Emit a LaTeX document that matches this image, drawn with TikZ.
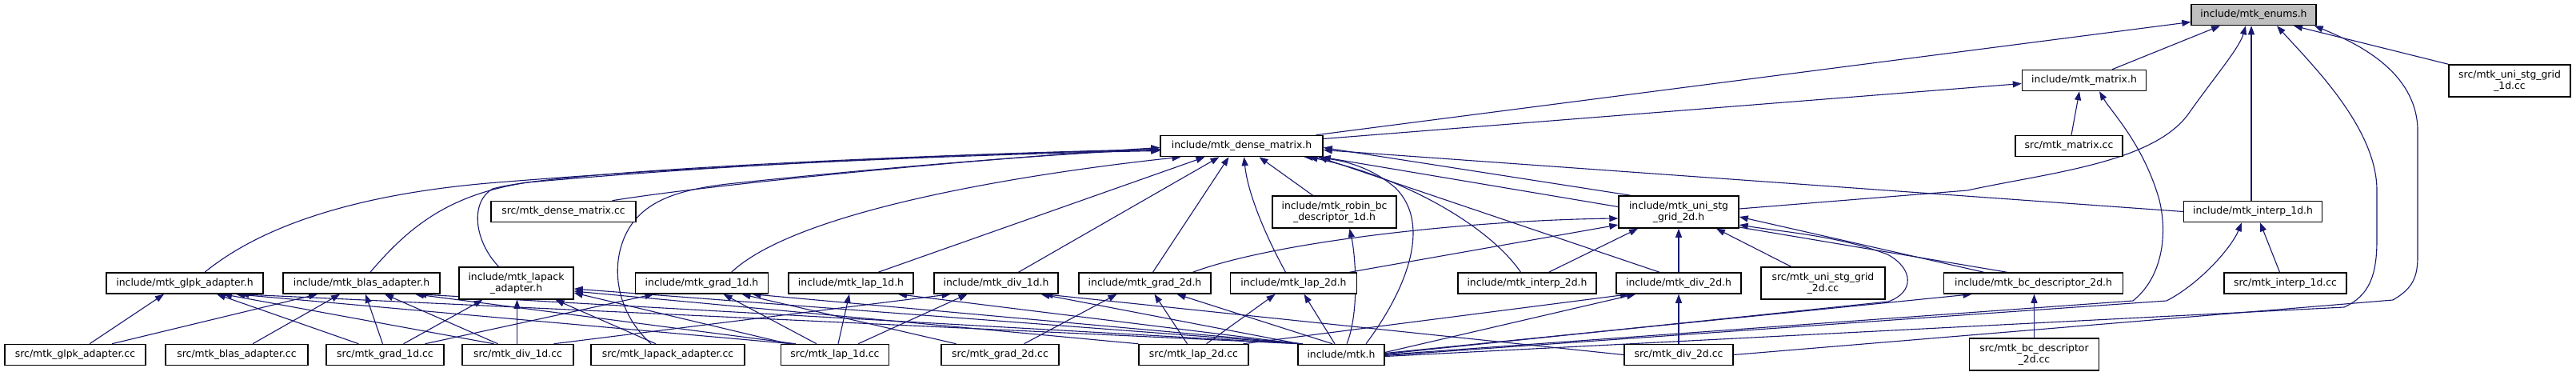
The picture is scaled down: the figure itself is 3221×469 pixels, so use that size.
\documentclass[tikz,border=0pt]{standalone}
\usepackage{fontspec}
\setmainfont{DejaVu Sans}
\usetikzlibrary{arrows.meta}
\definecolor{dkblue}{HTML}{191970}
\definecolor{rootgray}{HTML}{BFBFBF}
\newcommand\nodefont{\fontsize{12.4}{14}\selectfont}
\pgfdeclarelayer{bg}
\pgfsetlayers{bg,main}
\tikzset{
  box/.style={draw=black, line width=1.5pt, fill=white, inner sep=0pt, minimum height=26pt, align=center, font=\nodefont},
  box2/.style={box, minimum height=40pt},
  edge/.style={draw=dkblue, line width=1.1pt, -{Triangle[length=11pt,width=8pt]}},
}
\begin{document}
\begin{tikzpicture}[x=1pt,y=-1pt]
\useasboundingbox (0,0) rectangle (3221,469);
% nodes
\node[box, fill=rootgray, minimum width=156] (E) at (2818,18.5) {include/mtk\_enums.h};
\node[box, minimum width=155] (M) at (2606,100.5) {include/mtk\_matrix.h};
\node[box, minimum width=134] (MCC) at (2587,182.5) {src/mtk\_matrix.cc};
\node[box2, minimum width=152] (U1CC) at (3138,101) {src/mtk\_uni\_stg\_grid\\\_1d.cc};
\node[box, minimum width=203] (DM) at (1552.5,182.5) {include/mtk\_dense\_matrix.h};
\node[box, minimum width=181] (DMCC) at (704.5,264.5) {src/mtk\_dense\_matrix.cc};
\node[box2, minimum width=155] (ROB) at (1668.5,265) {include/mtk\_robin\_bc\\\_descriptor\_1d.h};
\node[box2, minimum width=150] (U2) at (2099,265) {include/mtk\_uni\_stg\\\_grid\_2d.h};
\node[box, minimum width=173] (I1) at (2817,264.5) {include/mtk\_interp\_1d.h};
\node[box, minimum width=196] (GLPK) at (231,354) {include/mtk\_glpk\_adapter.h};
\node[box, minimum width=196] (BLAS) at (452,354) {include/mtk\_blas\_adapter.h};
\node[box2, minimum width=143] (LAPACK) at (645.5,354) {include/mtk\_lapack\\\_adapter.h};
\node[box, minimum width=166] (G1) at (877.5,354) {include/mtk\_grad\_1d.h};
\node[box, minimum width=156] (L1) at (1064,354) {include/mtk\_lap\_1d.h};
\node[box, minimum width=155] (D1) at (1245.5,354) {include/mtk\_div\_1d.h};
\node[box, minimum width=165] (G2) at (1431.5,354) {include/mtk\_grad\_2d.h};
\node[box, minimum width=158] (L2) at (1617.5,354) {include/mtk\_lap\_2d.h};
\node[box, minimum width=173] (I2) at (1909.5,354) {include/mtk\_interp\_2d.h};
\node[box, minimum width=156] (D2) at (2099,354) {include/mtk\_div\_2d.h};
\node[box2, minimum width=155] (U2CC) at (2279.5,354) {src/mtk\_uni\_stg\_grid\\\_2d.cc};
\node[box, minimum width=224] (BC2) at (2542.5,354) {include/mtk\_bc\_descriptor\_2d.h};
\node[box, minimum width=153] (I1CC) at (2857.5,354) {src/mtk\_interp\_1d.cc};
\node[box, minimum width=176] (GLPKCC) at (94,443.5) {src/mtk\_glpk\_adapter.cc};
\node[box, minimum width=178] (BLASCC) at (296,443.5) {src/mtk\_blas\_adapter.cc};
\node[box, minimum width=147] (G1CC) at (481.5,443.5) {src/mtk\_grad\_1d.cc};
\node[box, minimum width=139] (D1CC) at (647.5,443.5) {src/mtk\_div\_1d.cc};
\node[box, minimum width=192] (LAPACKCC) at (835,443.5) {src/mtk\_lapack\_adapter.cc};
\node[box, minimum width=135] (L1CC) at (1044,443.5) {src/mtk\_lap\_1d.cc};
\node[box, minimum width=147] (G2CC) at (1250.5,443.5) {src/mtk\_grad\_2d.cc};
\node[box, minimum width=137] (L2CC) at (1492.5,443.5) {src/mtk\_lap\_2d.cc};
\node[box, minimum width=108] (MTK) at (1677,443.5) {include/mtk.h};
\node[box, minimum width=136] (D2CC) at (2099,443.5) {src/mtk\_div\_2d.cc};
\node[box2, minimum width=162] (BC2CC) at (2543.5,443) {src/mtk\_bc\_descriptor\\\_2d.cc};
\begin{pgfonlayer}{bg}
\fill[white] (0,0) rectangle (3221,469);
% bottom row sources
\draw[edge] ([xshift=18pt]GLPKCC.north) -- ([xshift=-26pt]GLPK.south);
\draw[edge] ([xshift=46pt]GLPKCC.north) -- ([xshift=-55pt]BLAS.south);
\draw[edge] ([xshift=20pt]BLASCC.north) -- ([xshift=-27pt]BLAS.south);
\draw[edge] ([xshift=-33pt]G1CC.north) -- ([xshift=40pt]GLPK.south);
\draw[edge] ([xshift=-3pt]G1CC.north) -- ([xshift=5pt]BLAS.south);
\draw[edge] ([xshift=23pt]G1CC.north) -- ([xshift=-42pt]LAPACK.south);
\draw[edge] ([xshift=50pt]G1CC.north) -- ([xshift=-60pt]G1.south);
\draw[edge] ([xshift=-30pt]D1CC.north) -- ([xshift=48pt]GLPK.south);
\draw[edge] ([xshift=-25pt]D1CC.north) -- ([xshift=29pt]BLAS.south);
\draw[edge] ([xshift=-1pt]D1CC.north) -- ([xshift=1pt]LAPACK.south);
\draw[edge] ([xshift=45pt]D1CC.north) -- ([xshift=-57pt]D1.south);
\draw[edge] ([xshift=-15pt]LAPACKCC.north) -- ([xshift=49pt]LAPACK.south);
\draw[edge] ([xshift=-21pt]LAPACKCC.north) .. controls (765,385) and (762,320) .. (790,280) .. controls (812,250) and (850,236) .. (919,229) .. controls (1080,212) and (1300,193) .. ([yshift=-4pt]DM.west);
\draw[edge] ([xshift=-54pt]L1CC.north) -- ([xshift=64pt]GLPK.south);
\draw[edge] ([xshift=-49pt]L1CC.north) -- ([xshift=67pt]BLAS.south);
\draw[edge] ([xshift=-58pt]L1CC.north) -- ([yshift=-12pt]LAPACK.east);
\draw[edge] ([xshift=-23pt]L1CC.north) -- ([xshift=27pt]G1.south);
\draw[edge] ([xshift=4pt]L1CC.north) -- ([xshift=-2pt]L1.south);
\draw[edge] ([xshift=29pt]L1CC.north) -- ([xshift=-36pt]D1.south);
\draw[edge] ([xshift=-55pt]G2CC.north) -- ([xshift=50pt]G1.south);
\draw[edge] ([xshift=30pt]G2CC.north) -- ([xshift=-35pt]G2.south);
\draw[edge] (L2CC.north west) -- ([yshift=-10pt]LAPACK.east);
\draw[edge] ([xshift=-8pt]L2CC.north) -- ([xshift=12pt]G2.south);
\draw[edge] ([xshift=16pt]L2CC.north) -- ([xshift=-23pt]L2.south);
\draw[edge] ([xshift=62pt]L2CC.north) -- ([xshift=-62pt]D2.south);
% mtk.h
\draw[edge] ([xshift=-52pt]MTK.north) -- ([xshift=69pt]GLPK.south);
\draw[edge] ([xshift=-51pt]MTK.north) -- ([xshift=70pt]BLAS.south);
\draw[edge] ([xshift=-50pt]MTK.north) -- ([yshift=-7pt]LAPACK.east);
\draw[edge] ([xshift=-48pt]MTK.north) -- ([xshift=63pt]G1.south);
\draw[edge] ([xshift=-53pt]MTK.north) -- ([xshift=59pt]L1.south);
\draw[edge] ([xshift=-52pt]MTK.north) -- ([xshift=56pt]D1.south);
\draw[edge] ([xshift=-11pt]MTK.north) -- ([xshift=40pt]G2.south);
\draw[edge] ([xshift=-8pt]MTK.north) -- ([xshift=13pt]L2.south);
\draw[edge] ([xshift=7pt]MTK.north) .. controls (1700,390) and (1695,320) .. ([xshift=19pt]ROB.south);
\draw[edge] ([xshift=31pt]MTK.north) .. controls (1760,360) and (1790,280) .. (1745,235) .. controls (1710,205) and (1670,198) .. ([xshift=78pt]DM.south);
\draw[edge] ([yshift=3pt]MTK.east) -- ([xshift=-54pt]D2.south);
\draw[edge] ([yshift=2pt]MTK.east) -- ([xshift=-77pt]BC2.south);
\draw[edge] ([yshift=1pt]MTK.east) -- (2361,377) .. controls (2395,365) and (2392,335) .. (2360,318) .. controls (2300,295) and (2230,290) .. ([yshift=-16pt]U2.east);
\draw[edge] (MTK.east) -- (2667,376) .. controls (2700,350) and (2712,300) .. (2700,250) .. controls (2680,180) and (2640,140) .. ([xshift=19pt]M.south);
\draw[edge] ([yshift=-1pt]MTK.east) -- (2709,376) .. controls (2750,355) and (2790,310) .. ([xshift=-14pt]I1.south);
\draw[edge] ([yshift=-2pt]MTK.east) -- (2931,384) .. controls (2962,370) and (2972,345) .. (2972,300) -- (2972,238) .. controls (2972,160) and (2890,80) .. ([xshift=29pt]E.south);
% div_2d.cc, bc, etc
\draw[edge] (D2CC.north) -- (D2.south);
\draw[edge] (D2CC.west) -- ([xshift=60pt]D1.south);
\draw[edge] (D2CC.east) -- (2992,375) .. controls (3018,360) and (3023,345) .. (3023,320) -- (3023,160) .. controls (3020,90) and (2950,55) .. ([xshift=-3pt]E.south east);
\draw[edge] (BC2CC.north) -- ([xshift=1pt]BC2.south);
\draw[edge] ([xshift=-40pt]U2CC.north) -- ([xshift=47pt]U2.south);
\draw[edge] ([xshift=-7pt]I1CC.north) -- ([xshift=9pt]I1.south);
\draw[edge] (D2.north) -- (U2.south);
\draw[edge] ([xshift=27pt]I2.north) -- ([xshift=-51pt]U2.south);
\draw[edge] ([xshift=60pt]G2.north) .. controls (1600,300) and (1850,275) .. ([yshift=-8pt]U2.west);
\draw[edge] ([xshift=70pt]L2.north) -- ([yshift=-16pt]U2.west);
\draw[edge] ([xshift=-62pt]BC2.north) -- ([yshift=-6pt]U2.east);
\draw[edge] ([yshift=4pt]U2.east) -- (2460,238) .. controls (2560,216) and (2695,204) .. (2738,140) .. controls (2770,95) and (2800,60) .. ([xshift=-10pt]E.south);
\draw[edge] ([xshift=-2pt]I1.north) -- ([xshift=-3pt]E.south);
\draw[edge] (U1CC.north west) -- ([xshift=50pt]E.south);
\draw[edge] ([xshift=35pt]M.north) -- ([xshift=-42pt]E.south);
\draw[edge] ([xshift=93pt]DM.north) -- ([yshift=-9pt]E.west);
\draw[edge] ([yshift=9pt]DM.east) -- ([yshift=-4pt]M.west);
\draw[edge] ([xshift=3pt]MCC.north) -- ([xshift=-6pt]M.south);
% into dense_matrix
\draw[edge] (I1.west) -- ([yshift=-5pt]DM.east);
\draw[edge] ([xshift=-33pt]BC2.north) -- ([xshift=-2pt]DM.south east);
\draw[edge] ([xshift=-60pt]U2.north) -- ([yshift=-2pt]DM.east);
\draw[edge] ([xshift=-24pt]D2.north) -- ([xshift=-6pt]DM.south east);
\draw[edge] ([xshift=-8pt]I2.north) .. controls (1860,280) and (1750,220) .. ([xshift=84pt]DM.south);
\draw[edge] ([xshift=-27pt]ROB.north) -- ([xshift=22pt]DM.south);
\draw[edge] ([xshift=-10pt]L2.north) .. controls (1580,290) and (1560,240) .. ([xshift=3pt]DM.south);
\draw[edge] ([xshift=10pt]G2.north) -- ([xshift=-16pt]DM.south);
\draw[edge] ([xshift=28pt]D1.north) -- ([xshift=-28pt]DM.south);
\draw[edge] ([xshift=34pt]L1.north) -- ([xshift=-46pt]DM.south);
\draw[edge] ([xshift=37pt]G1.north) .. controls (1000,260) and (1300,215) .. ([xshift=-76pt]DM.south);
\draw[edge] ([xshift=61pt]DMCC.north) .. controls (880,232) and (1200,200) .. ([yshift=-2pt]DM.west);
\draw[edge] ([xshift=25pt]GLPK.north) .. controls (330,280) and (450,243) .. (610,229) .. controls (900,205) and (1250,192) .. ([yshift=-6pt]DM.west);
\draw[edge] ([xshift=11pt]BLAS.north) .. controls (510,285) and (560,243) .. (660,228) .. controls (950,202) and (1250,191) .. ([yshift=-5pt]DM.west);
\draw[edge] ([xshift=-22pt]LAPACK.north) .. controls (592,300) and (588,252) .. (616,236) .. controls (700,212) and (1200,192) .. ([yshift=-4pt]DM.west);
\end{pgfonlayer}
\end{tikzpicture}
\end{document}
